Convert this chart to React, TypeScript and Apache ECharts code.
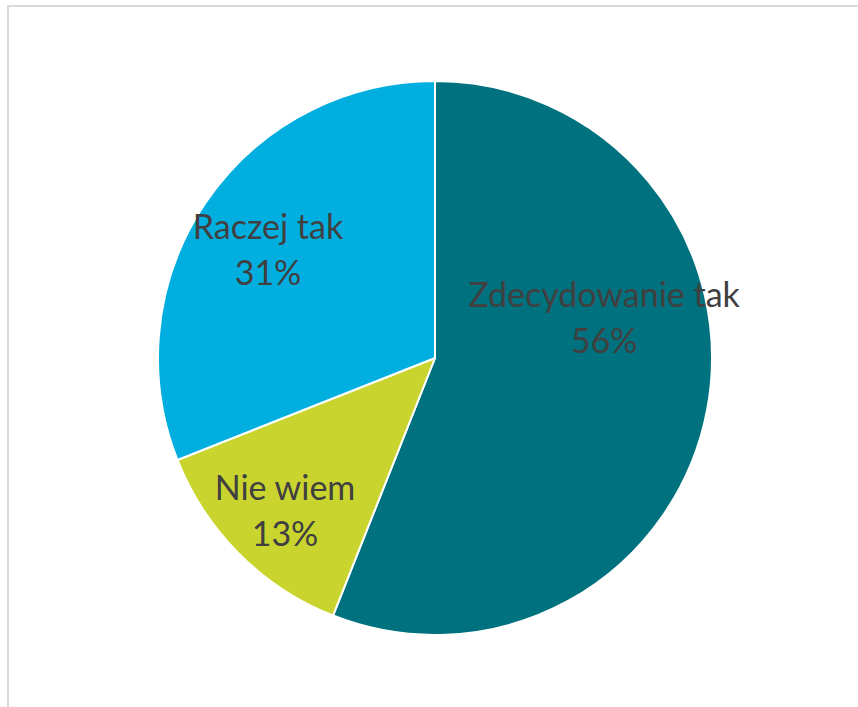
import React, { useEffect, useRef } from "react";
import * as echarts from "echarts";

const categories = ["Zdecydowanie tak", "Nie wiem", "Raczej tak"];
const values = [56, 13, 31];
const colors = ["#00717E", "#C9D52E", "#00AFE0"];
const labelPositions: [number, number][] = [
  [604, 316],
  [285, 509],
  [268, 248],
];

export default function App() {
  const ref = useRef<HTMLDivElement>(null);
  useEffect(() => {
    document.body.style.margin = "0";
    if (!ref.current) return;
    const chart = echarts.init(ref.current, undefined, { renderer: "svg" });
    chart.setOption({
      animation: false,
      backgroundColor: "#ffffff",
      graphic: [
        {
          type: "rect",
          shape: { x: 8, y: 6, width: 900, height: 800 },
          style: { fill: "none", stroke: "#d9d9d9", lineWidth: 2 },
          silent: true,
        },
      ],
      series: [
        {
          type: "pie",
          center: [435, 358],
          radius: 277,
          startAngle: 90,
          clockwise: true,
          itemStyle: { borderColor: "#ffffff", borderWidth: 2 },
          label: {
            show: true,
            position: "inside",
            formatter: "{b}\n{d}%",
            fontFamily: "Lato",
            fontSize: 34,
            lineHeight: 46,
            color: "#404040",
            align: "center",
          },
          labelLine: { show: false },
          labelLayout: (p: any) => ({
            x: labelPositions[p.dataIndex][0],
            y: labelPositions[p.dataIndex][1],
            align: "center",
            verticalAlign: "middle",
          }),
          emphasis: { disabled: true },
          data: categories.map((c, i) => ({
            name: c,
            value: values[i],
            itemStyle: { color: colors[i] },
          })),
        },
      ],
    });
    return () => chart.dispose();
  }, []);
  return <div ref={ref} style={{ width: 858, height: 707 }} />;
}
